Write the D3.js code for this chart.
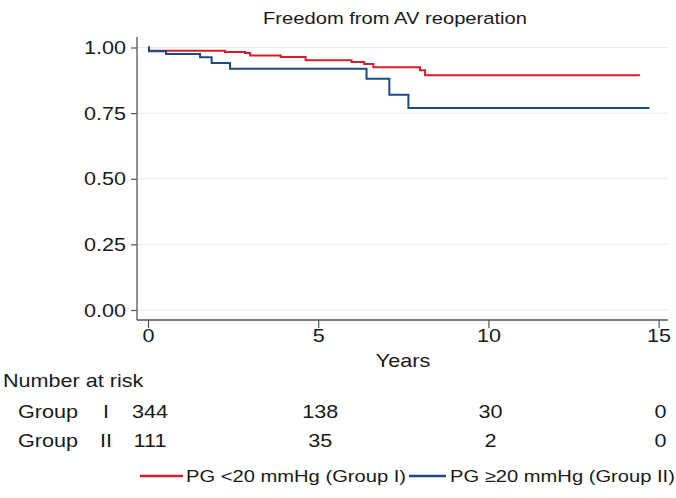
<!DOCTYPE html>
<html>
<head>
<meta charset="utf-8">
<script src="https://cdn.jsdelivr.net/npm/d3@7"></script>
<style>
  html, body { margin: 0; padding: 0; background: #fff; }
  svg { display: block; }
  text { font-family: "Liberation Sans", Arial, Helvetica, sans-serif; fill: #1a1a1a; }
</style>
</head>
<body>
<svg id="chart" width="676" height="498"></svg>
<script>
// ---------------- DATA ----------------
const title = "Freedom from AV reoperation";
const xLabel = "Years";
const xTicks = [0, 5, 10, 15];
const yTicks = [0, 0.25, 0.5, 0.75, 1];

// Group I (PG <20 mmHg) step changes: time (years) and survival after step
const groupITimes = [0, 0.03, 2.26, 2.85, 3.0, 3.9, 4.63, 5.98, 6.35, 6.62, 7.99, 8.14, 14.45];
const groupIValues = [1.0, 0.988, 0.983, 0.979, 0.970, 0.964, 0.951, 0.945, 0.937, 0.925, 0.913, 0.894, 0.894];

// Group II (PG >=20 mmHg)
const groupIITimes = [0, 0.03, 0.53, 1.53, 1.87, 2.41, 6.42, 7.09, 7.65, 14.73];
const groupIIValues = [1.0, 0.986, 0.975, 0.963, 0.941, 0.919, 0.881, 0.820, 0.770, 0.770];

const riskTimes = [0, 5, 10, 15];
const riskGroupI = [344, 138, 30, 0];
const riskGroupII = [111, 35, 2, 0];
const riskRowLabels = ["I", "II"];
const legendLabels = ["PG <20 mmHg (Group I)", "PG \u226520 mmHg (Group II)"];
const seriesColors = ["#d0202c", "#1b4a86"];

// ---------------- LAYOUT ----------------
const SX = 1.2; // horizontal text stretch of the original
const svg = d3.select("#chart");
const x = d3.scaleLinear().domain([-0.323, 15.276]).range([137, 668]);
const y = d3.scaleLinear().domain([0, 1]).range([310, 47.5]);
const plotTop = 37, plotBottom = 320;

function stext(g, px, py, str, size, anchor) {
  return g.append("text")
    .attr("transform", `translate(${px},${py}) scale(${SX},1)`)
    .attr("text-anchor", anchor || "start")
    .style("font-size", size + "px")
    .text(str);
}

// gridlines
svg.append("g").selectAll("line").data(yTicks).join("line")
  .attr("x1", x.range()[0]).attr("x2", x.range()[1])
  .attr("y1", d => y(d)).attr("y2", d => y(d))
  .attr("stroke", "#ebebeb").attr("stroke-width", 1);

// y axis
const yAxis = svg.append("g").attr("transform", `translate(${x.range()[0]},0)`)
  .call(d3.axisLeft(y).tickValues(yTicks).tickFormat(d3.format(".2f")).tickSize(6).tickPadding(5).tickSizeOuter(0));
yAxis.select(".domain").remove();
yAxis.selectAll(".tick line").attr("stroke", "#555").attr("stroke-width", 1.2);
yAxis.selectAll(".tick text")
  .attr("x", null).attr("dy", null)
  .attr("transform", `translate(-11,6) scale(${SX},1)`)
  .style("font-size", "18px").attr("fill", "#1a1a1a");
yAxis.attr("font-family", null).attr("font-size", null);
svg.append("line").attr("x1", x.range()[0]).attr("x2", x.range()[0])
  .attr("y1", plotTop).attr("y2", plotBottom).attr("stroke", "#555").attr("stroke-width", 1.3);

// x axis
const xAxis = svg.append("g").attr("transform", `translate(0,${plotBottom})`)
  .call(d3.axisBottom(x).tickValues(xTicks).tickFormat(d3.format("d")).tickSize(8).tickPadding(1).tickSizeOuter(0));
xAxis.select(".domain").remove();
xAxis.attr("font-family", null).attr("font-size", null);
xAxis.selectAll(".tick line").attr("stroke", "#555").attr("stroke-width", 1.2);
xAxis.selectAll(".tick text")
  .attr("y", null).attr("dy", null)
  .attr("transform", `translate(0,22) scale(${SX},1)`)
  .style("font-size", "18px").attr("fill", "#1a1a1a");
svg.append("line").attr("x1", x.range()[0]).attr("x2", x.range()[1])
  .attr("y1", plotBottom).attr("y2", plotBottom).attr("stroke", "#555").attr("stroke-width", 1.3);

// axis label & title
stext(svg, 403, 367, xLabel, 18, "middle");
stext(svg, 395, 24, title, 16.8, "middle");

// curves
const line = d3.line().x(d => x(d[0])).y(d => y(d[1])).curve(d3.curveStepAfter);
const series = [
  groupITimes.map((t, i) => [t, groupIValues[i]]),
  groupIITimes.map((t, i) => [t, groupIIValues[i]])
];
svg.append("g").selectAll("path").data(series).join("path")
  .attr("d", line).attr("fill", "none")
  .attr("stroke", (d, i) => seriesColors[i]).attr("stroke-width", 2);

// number at risk table
stext(svg, 3, 387, "Number at risk", 18, "start");
const rows = [riskGroupI, riskGroupII];
const rowY = [418, 447];
rows.forEach((r, ri) => {
  stext(svg, 18, rowY[ri], "Group", 18, "start");
  stext(svg, 106, rowY[ri], riskRowLabels[ri], 18, "middle");
  r.forEach((v, i) => stext(svg, x(riskTimes[i]) + 2, rowY[ri], String(v), 18, "middle"));
});

// legend
const legX = [[140, 183], [409, 446]];
const legTextX = [186, 450];
const legY = 476;
legendLabels.forEach((lab, i) => {
  svg.append("line").attr("x1", legX[i][0]).attr("x2", legX[i][1])
    .attr("y1", legY).attr("y2", legY).attr("stroke", seriesColors[i]).attr("stroke-width", 2.5);
  stext(svg, legTextX[i], legY + 6, lab, 16.8, "start");
});
</script>
</body>
</html>
